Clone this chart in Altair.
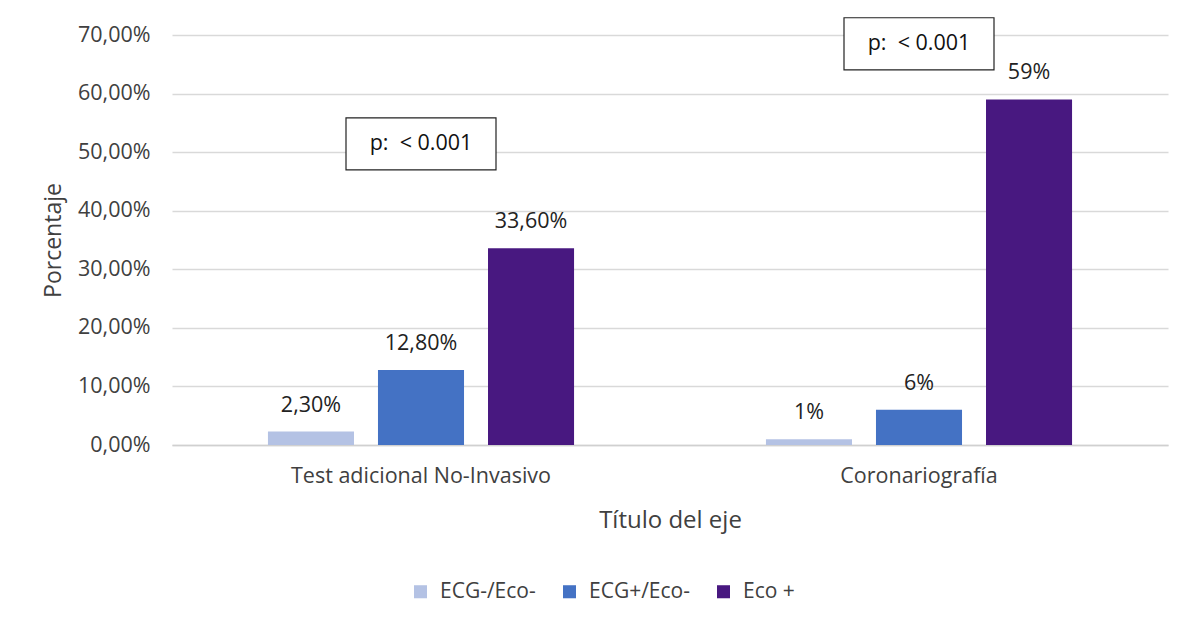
import altair as alt
import pandas as pd

# Chart data
categories = ["Test adicional No-Invasivo", "Coronariografía"]
groups = ["ECG-/Eco-", "ECG+/Eco-", "Eco +"]
values = {
    "Test adicional No-Invasivo": [2.3, 12.8, 33.6],
    "Coronariografía": [1.0, 6.0, 59.0],
}
value_labels = {
    "Test adicional No-Invasivo": ["2,30%", "12,80%", "33,60%"],
    "Coronariografía": ["1%", "6%", "59%"],
}
group_colors = ["#b4c2e4", "#4472c4", "#481880"]

# p-value annotation boxes (category, height in % units)
note_categories = ["Test adicional No-Invasivo", "Coronariografía"]
note_levels = [51.4, 68.5]
note_texts = ["p:\u00a0 < 0.001", "p:\u00a0 < 0.001"]

rows = []
for cat in categories:
    for g, v, lab in zip(groups, values[cat], value_labels[cat]):
        rows.append({"cat": cat, "grupo": g, "valor": v, "etiqueta": lab})
df = pd.DataFrame(rows)
notes = pd.DataFrame({"cat": note_categories, "nivel": note_levels, "texto": note_texts})

FONT = "Open Sans"
TXT = "#404040"
FS = 21.5

x_enc = alt.X(
    "cat:N",
    sort=categories,
    title="Título del eje",
    scale=alt.Scale(paddingInner=0, paddingOuter=0),
    axis=alt.Axis(
        labelAngle=0, ticks=False, domainColor="#d0d0d0", domainWidth=1.5,
        labelFontSize=FS, labelColor=TXT, labelPadding=20, labelFont=FONT,
        labelLimit=0,
        titleFontSize=24, titleColor=TXT, titleFont=FONT, titleFontWeight="normal",
        titlePadding=22,
    ),
)
y_enc = alt.Y(
    "valor:Q",
    title="Porcentaje",
    scale=alt.Scale(domain=[0, 70], nice=False),
    axis=alt.Axis(
        values=[0, 10, 20, 30, 40, 50, 60, 70],
        labelExpr="replace(format(datum.value, '.2f'), '.', ',') + '%'",
        domain=False, ticks=False, gridColor="#d9d9d9", gridWidth=1.5,
        labelFontSize=FS, labelColor=TXT, labelPadding=22, labelFont=FONT,
        titleFontSize=23, titleColor=TXT, titleFont=FONT, titleFontWeight="normal",
        titlePadding=12,
    ),
)
xo_enc = alt.XOffset(
    "grupo:N", sort=groups,
    scale=alt.Scale(paddingInner=0.218, paddingOuter=0.872),
)
color_enc = alt.Color(
    "grupo:N",
    sort=groups,
    scale=alt.Scale(domain=groups, range=group_colors),
    legend=alt.Legend(
        title=None, orient="none", direction="horizontal",
        legendX=238, legendY=546,
        symbolType="square", symbolSize=170, symbolStrokeWidth=0,
        labelFontSize=21, labelColor=TXT, labelFont=FONT, labelLimit=0,
        columnPadding=23, symbolOffset=0, labelOffset=9,
    ),
)

base = alt.Chart(df).encode(x=x_enc, xOffset=xo_enc)

bars = base.mark_bar(stroke=None).encode(y=y_enc, color=color_enc)

labels = base.mark_text(
    dy=-26, fontSize=FS, font=FONT, color="#222222", baseline="middle"
).encode(y="valor:Q", text="etiqueta:N")

note_boxes = alt.Chart(notes).mark_point(
    shape="M-1,-0.347L1,-0.347L1,0.347L-1,0.347Z",
    size=22500, filled=True, fill="white", stroke="#222222", strokeWidth=1.2,
    opacity=1, clip=False,
).encode(x=alt.X("cat:N", sort=categories), y=alt.Y("nivel:Q"))

note_text = alt.Chart(notes).mark_text(
    fontSize=FS, font=FONT, color="#111111", baseline="middle"
).encode(x=alt.X("cat:N", sort=categories), y=alt.Y("nivel:Q"), text="texto:N")

chart = alt.layer(bars, labels, note_boxes, note_text).properties(
    width=996,
    height=410,
    autosize=alt.AutoSizeParams(type="none"),
    padding={"left": 172, "top": 35, "right": 32, "bottom": 187},
    background="white",
).configure_view(stroke=None)

chart.save("out.html", embed_options={"renderer": "svg", "actions": False})
